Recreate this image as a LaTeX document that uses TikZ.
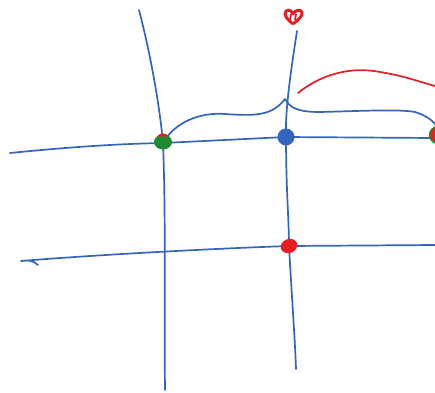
\documentclass[tikz,border=0pt]{standalone}
\usepackage{xcolor}
\usepackage{tikz}
\usetikzlibrary{calc,positioning,shapes.geometric}
\definecolor{Ink}{HTML}{3565BA}
\definecolor{Pen}{HTML}{E51E25}
\definecolor{Moss}{HTML}{1E8A34}
\tikzset{
  stroke/.style={line width=1.7pt,line cap=round,line join=round},
  blob/.style={ellipse,inner sep=0pt,minimum width=#1,minimum height=#1},
}
\begin{document}
\begin{tikzpicture}[x=1pt,y=-1pt]
\useasboundingbox (0,0) rectangle (435,392);
\coordinate (west) at (163,143);
\coordinate (mid) at (286,137);
\coordinate (low) at (289,246);
\coordinate (east) at (435,138);
% grid
\draw[Ink,stroke] (139,10) .. controls (152,60) and (160,110) .. (west) .. controls (166,220) and (164,300) .. (165,390);
\draw[Ink,stroke] (297,31) .. controls (291,70) and (285,110) .. (mid) .. controls (286,190) and (289,220) .. (low) .. controls (292,300) and (295,340) .. (296,369);
\draw[Ink,stroke] (10,153) .. controls (60,148) and (110,144) .. (west) -- (mid) -- (east);
\draw[Ink,stroke] (38,265) .. controls (33,260) and (27,260) .. (21,261) .. controls (80,256) and (200,249) .. (low) -- (435,245);
% upper bend
\draw[Ink,stroke] (west) .. controls (175,122) and (200,112) .. (225,114) .. controls (255,116) and (272,116) .. (285,99) .. controls (290,108) and (298,112) .. (320,112) .. controls (360,111) and (400,109) .. (415,112) .. controls (425,115) and (432,120) .. (435,124);
\draw[Pen,stroke] (298,93) .. controls (320,75) and (350,66) .. (380,72) .. controls (405,76) and (420,82) .. (435,86);
% dots
\node[blob=18pt,fill=Moss,minimum height=15pt] (westdot) at ([yshift=1pt]west) {};
\draw[Pen,line width=2.4pt] ([shift={(2pt,0pt)}]westdot.north west) to[bend left=45] ([shift={(-2pt,0pt)}]westdot.north east);
\node[blob=17pt,fill=Ink] (middot) at (mid) {};
\node[blob=17pt,fill=Pen,minimum height=14pt,rotate=20] (lowdot) at (low) {};
\node[blob=17pt,fill=Pen,draw=Moss,line width=1.3pt] (eastdot) at ([xshift=3pt,yshift=3pt]east) {};
\draw[Pen,line width=3pt,line join=round] (293,24) .. controls (287,19) and (283,15) .. (286,11) .. controls (289,9) and (292,11) .. (293,14) .. controls (295,10) and (300,9) .. (302,12) .. controls (303,16) and (298,20) .. (293,24);
\draw[Pen,line width=1.8pt] (290,20) -- (291,14) (295,20) -- (296,14);
\end{tikzpicture}
\end{document}
